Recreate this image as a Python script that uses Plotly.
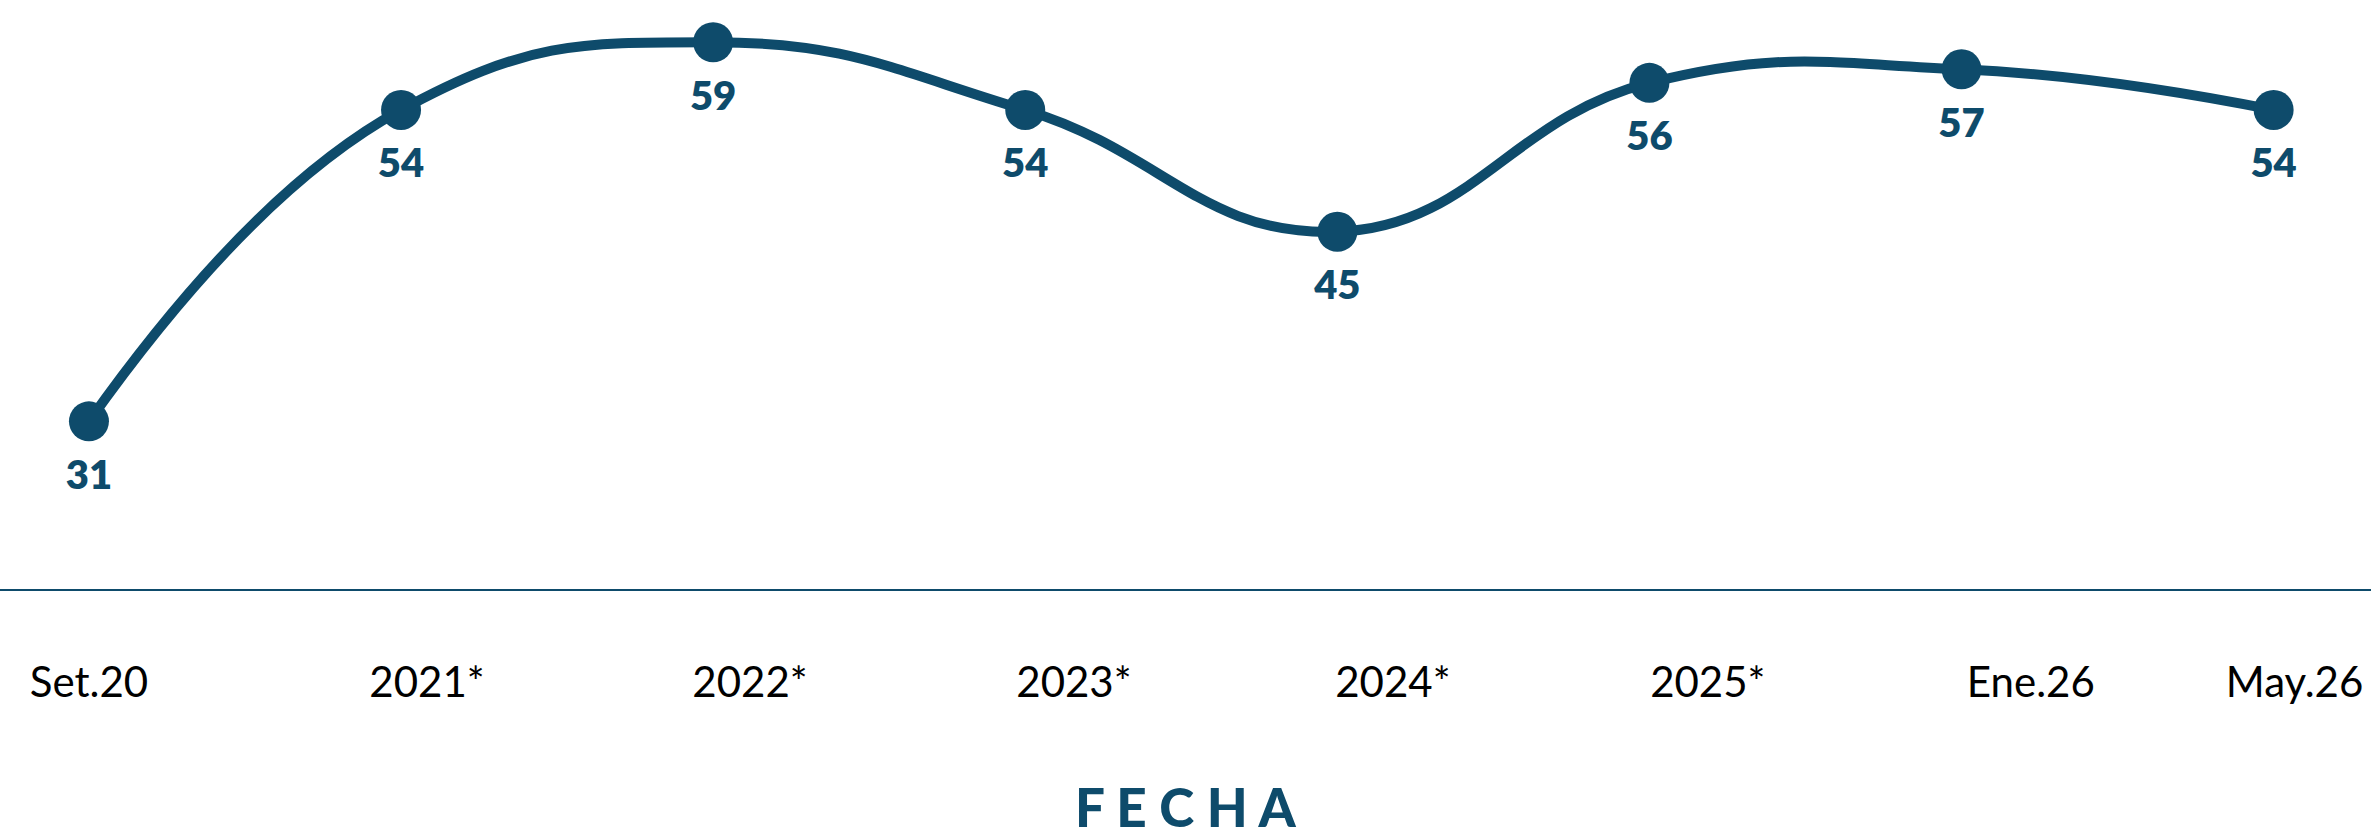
import plotly.graph_objects as go

# ---- data ----
categories = ["Set.20", "2021*", "2022*", "2023*", "2024*", "2025*", "Ene.26", "May.26"]
values = [31, 54, 59, 54, 45, 56, 57, 54]
tick_labels = ["Set.20", "2021*", "2022*", "2023*", "2024*", "2025*", "Ene.26", "May.26"]
axis_title = "F E C H A"

# ---- style / layout constants ----
COLOR = "#0E4B6B"
W, H = 2371, 830
# tick labels sit slightly to the right of their points (last one clamped to the edge)
tick_label_positions = [0.0, 1.083, 2.118, 3.156, 4.178, 5.187, 6.222, 7.067]

x_idx = list(range(len(categories)))

fig = go.Figure()
# line + markers
fig.add_trace(go.Scatter(
    x=x_idx,
    y=values,
    customdata=categories,
    mode="lines+markers",
    line=dict(color=COLOR, width=10, shape="spline", smoothing=1.3),
    marker=dict(color=COLOR, size=40, line=dict(width=0)),
    cliponaxis=False,
    hovertemplate="%{customdata}: %{y}<extra></extra>",
))
# value labels (invisible larger marker only used to set the label gap)
fig.add_trace(go.Scatter(
    x=x_idx,
    y=values,
    mode="markers+text",
    marker=dict(color="rgba(0,0,0,0)", size=58, line=dict(width=0)),
    text=[str(v) for v in values],
    textposition="bottom center",
    textfont=dict(family="Lato", size=40, color=COLOR, weight=800),
    cliponaxis=False,
    hoverinfo="skip",
))

fig.update_layout(
    width=W, height=H,
    margin=dict(l=0, r=0, t=0, b=241, autoexpand=False),
    paper_bgcolor="white",
    plot_bgcolor="white",
    showlegend=False,
    xaxis=dict(
        range=[-0.285, 7.312],
        tickmode="array",
        tickvals=tick_label_positions,
        ticktext=tick_labels,
        tickfont=dict(family="Lato", size=42, color="black"),
        ticks="",
        ticklabelstandoff=56,
        showgrid=False,
        zeroline=False,
        showline=True,
        linecolor=COLOR,
        linewidth=2,
        automargin=False,
        fixedrange=True,
    ),
    yaxis=dict(
        range=[18.62, 62.12],
        visible=False,
        showgrid=False,
        zeroline=False,
        fixedrange=True,
    ),
    annotations=[dict(
        text=axis_title,
        xref="paper", yref="paper",
        x=0.5, y=0,
        xanchor="center", yanchor="top",
        yshift=-184,
        showarrow=False,
        font=dict(family="Lato", size=53, color=COLOR, weight=900),
    )],
)

fig.write_html(
    "out.html",
    config={"displayModeBar": False},
    post_script="document.body.style.margin='0';document.body.style.overflow='hidden';",
)
